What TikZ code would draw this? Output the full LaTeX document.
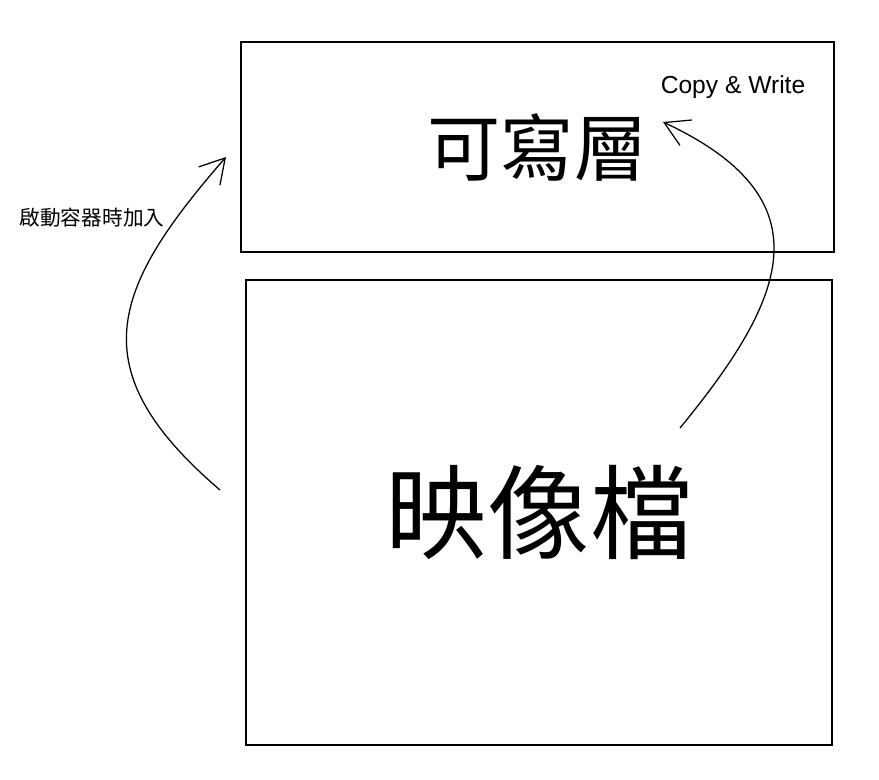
\documentclass[tikz,border=0pt]{standalone}
\usepackage{fontspec}
\setmainfont{Liberation Sans}
\newfontfamily\cjkfont{Noto Sans CJK TC}
\usetikzlibrary{arrows.meta}

\tikzset{
  layer/.style={rectangle, draw, line width=0.9pt, inner sep=0pt, font=\cjkfont},
  flow/.style={-{Straight Barb[length=6mm,width=7mm,line width=0.9pt]}, line width=0.9pt},
}

\begin{document}
\begin{tikzpicture}[x=0.025cm, y=-0.025cm]
         \useasboundingbox (0,0) rectangle (879,779);

         \node [layer, minimum width=14.825cm, minimum height=5.25cm, font=\cjkfont\fontsize{52}{52}\selectfont] (W) at (537.5,147) {可寫層};
         \node [layer, minimum width=14.65cm, minimum height=11.625cm, font=\cjkfont\fontsize{73}{73}\selectfont] (I) at (539,512.5) {映像檔};

         \node [font=\fontsize{17.5}{17.5}\selectfont] (cw) at (733,87) {Copy \& Write};
         \node [font=\cjkfont\fontsize{14.7}{14.7}\selectfont] (start) at (92,218) {啟動容器時加入};

         \coordinate (a1) at (220,490);
         \coordinate (a2) at (226,157);
         \coordinate (b1) at (680,428);
         \coordinate (b2) at (663,122);

  		 \draw [flow] (a1) .. controls (80,370) and (110,290) .. (a2);
  		 \draw [flow] (b1) .. controls (785,300) and (830,200) .. (b2);
         
        \end{tikzpicture}
\end{document}
